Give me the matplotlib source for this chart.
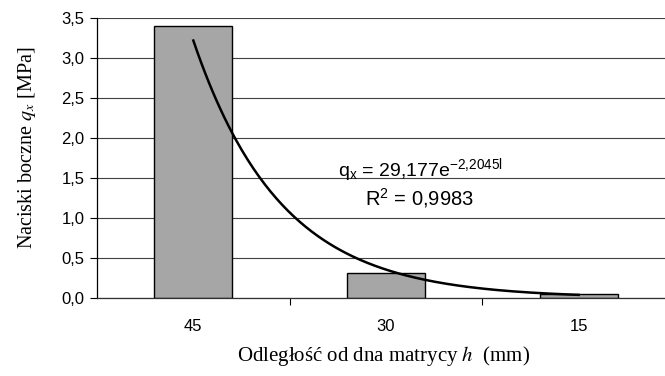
import numpy as np
import matplotlib
matplotlib.use("Agg")
import matplotlib.pyplot as plt

plt.rcParams['font.family'] = ['Liberation Sans', 'DejaVu Sans']
plt.rcParams['mathtext.fontset'] = 'stix'

# data
categories = ['45', '30', '15']
values = [3.40, 0.31, 0.045]
# trendline from chart: q = A * exp(B * l), l = 1, 2, 3
trend_a = 29.177
trend_b = -2.2045

fig = plt.figure(figsize=(6.65, 3.76), dpi=100)
ax = fig.add_axes([97/665, 1 - 298/376, 578/665, 280/376])

x = np.arange(len(categories))
ax.bar(x, values, width=0.405, color='#a6a6a6', edgecolor='black', linewidth=1.0, zorder=2)

l = np.linspace(1, 3, 200)
ax.plot(l - 1, trend_a * np.exp(trend_b * l), color='#c0c0c0', lw=0.8, zorder=3)
ax.plot(l - 1, trend_a * np.exp(trend_b * l), color='black', lw=1.8, zorder=4)

ax.set_xlim(-0.5, 2.5)
ax.set_ylim(0, 3.5)
yt = np.arange(0, 3.51, 0.5)
ax.set_yticks(yt)
ax.set_yticklabels([('%.1f' % v).replace('.', ',') for v in yt], fontsize=12)
ax.yaxis.grid(True, color='#404040', lw=0.8, zorder=0)
ax.set_axisbelow(True)

ax.set_xticks(x)
ax.set_xticklabels(categories, fontsize=12)
ax.tick_params(axis='x', length=0, pad=15)
ax.set_xticks([0.5, 1.5], minor=True)
ax.tick_params(axis='x', which='minor', length=5, width=0.8, direction='out')
ax.tick_params(axis='y', length=5, width=0.8, direction='out', pad=4)

for s in ['top', 'right']:
    ax.spines[s].set_visible(False)
ax.spines['left'].set_linewidth(0.9)
ax.spines['bottom'].set_linewidth(0.9)
ax.spines['bottom'].set_color('#303030')

ax.text(0.752, 1.6, r'q$\mathregular{_x}$ = 29,177e$\mathregular{^{-2{,}2045l}}$',
        fontsize=14, ha='left', va='center')
ax.text(0.892, 1.25, r'R$\mathregular{^2}$ = 0,9983', fontsize=14.5, ha='left', va='center')

fig.text(27/665, 1 - 148/376, r'Naciski boczne $q_x$ [MPa]', rotation=90,
         ha='center', va='center', fontsize=14.5, family='Liberation Serif')
fig.text(384/665, 1 - 356/376, r'Odległość od dna matrycy $h$  (mm)',
         ha='center', va='center', fontsize=15, family='Liberation Serif')

fig.savefig('out.png', dpi=100)
